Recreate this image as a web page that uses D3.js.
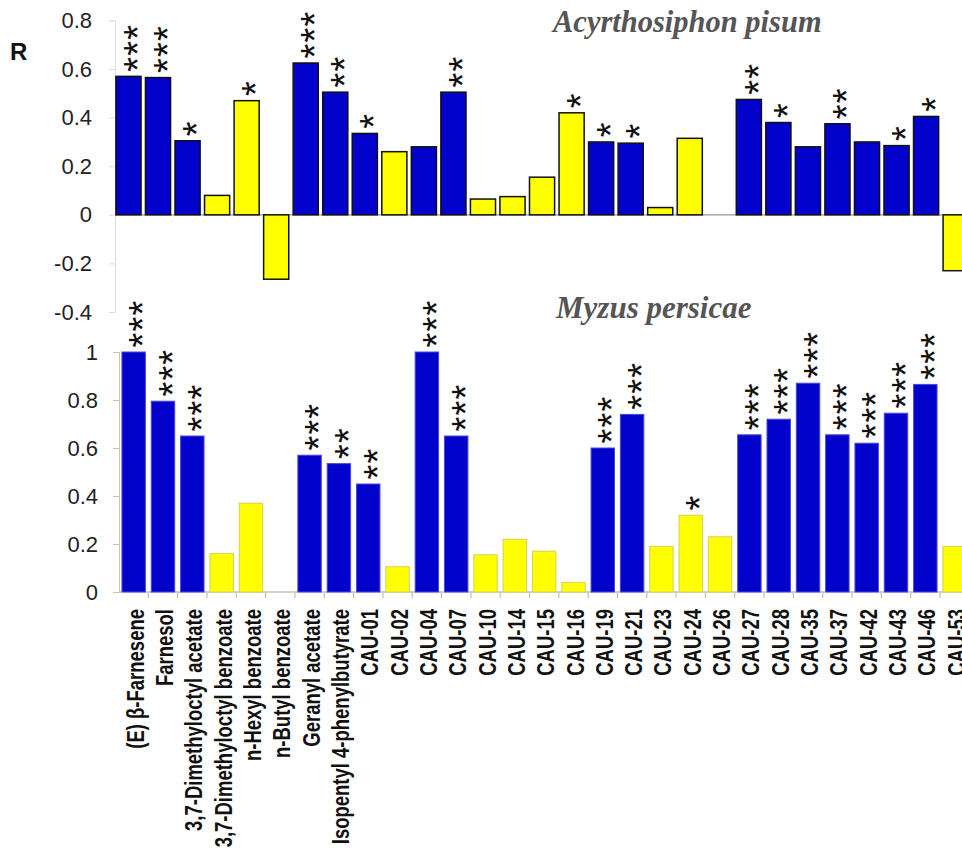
<!DOCTYPE html>
<html>
<head>
<meta charset="utf-8">
<script src="https://cdn.jsdelivr.net/npm/d3@7"></script>
<style>
  body { margin: 0; background: #fff; }
  svg { display: block; }
</style>
</head>
<body>
<div id="chart"></div>
<script>
// Chart values
const categories = [
  "(E) β-Farnesene", "Farnesol", "3,7-Dimethyloctyl acetate", "3,7-Dimethyloctyl benzoate",
  "n-Hexyl benzoate", "n-Butyl benzoate", "Geranyl acetate", "Isopentyl 4-phenylbutyrate",
  "CAU-01", "CAU-02", "CAU-04", "CAU-07", "CAU-10", "CAU-14", "CAU-15", "CAU-16",
  "CAU-19", "CAU-21", "CAU-23", "CAU-24", "CAU-26", "CAU-27", "CAU-28", "CAU-35",
  "CAU-37", "CAU-42", "CAU-43", "CAU-46", "CAU-53"
];
const groups = [
  "blue", "blue", "blue", "yellow", "yellow", "yellow", "blue", "blue",
  "blue", "yellow", "blue", "blue", "yellow", "yellow", "yellow", "yellow",
  "blue", "blue", "yellow", "yellow", "yellow", "blue", "blue", "blue",
  "blue", "blue", "blue", "blue", "yellow"
];
const pisumR = [
  0.57, 0.565, 0.305, 0.08, 0.47, -0.265, 0.625, 0.505,
  0.335, 0.26, 0.28, 0.505, 0.065, 0.075, 0.155, 0.42,
  0.30, 0.295, 0.03, 0.315, null, 0.475, 0.38, 0.28,
  0.375, 0.30, 0.285, 0.405, -0.23
];
const pisumStars = [3, 3, 1, 0, 1, 0, 3, 2, 1, 0, 0, 2, 0, 0, 0, 1, 1, 1, 0, 0, 0, 2, 1, 0, 2, 0, 1, 1, 0];
const persicaeR = [
  1.0, 0.795, 0.65, 0.16, 0.37, 0, 0.57, 0.535,
  0.45, 0.105, 1.0, 0.65, 0.155, 0.22, 0.17, 0.04,
  0.60, 0.74, 0.19, 0.32, 0.23, 0.655, 0.72, 0.87,
  0.655, 0.62, 0.745, 0.865, 0.19
];
const persicaeStars = [3, 3, 3, 0, 0, 0, 3, 2, 2, 0, 3, 3, 0, 0, 0, 0, 3, 3, 0, 1, 0, 3, 3, 3, 3, 3, 3, 3, 0];
const topTicks = [0.8, 0.6, 0.4, 0.2, 0, -0.2, -0.4];
const bottomTicks = [1, 0.8, 0.6, 0.4, 0.2, 0];

const WIDTH = 962;
const HEIGHT = 856;
const COLORS = { blue: "#0202cc", yellow: "#ffff00" };
const BOTTOM_STROKE = { blue: "#4a4ad6", yellow: "#d6cf5a" };
const SANS = "Arial, 'Liberation Sans', Helvetica, sans-serif";
const SERIF = "'Times New Roman', 'Liberation Serif', serif";
const STAR_SIZE = 38;

const svg = d3.select("#chart").append("svg")
  .attr("width", WIDTH)
  .attr("height", HEIGHT);

// scales
const yTop = d3.scaleLinear().domain([-0.4, 0.8]).range([312, 20.5]);
const yBot = d3.scaleLinear().domain([0, 1]).range([592, 352]);
const xTop = d3.scaleBand().domain(categories).range([113.7, 970.4])
  .paddingInner(0.15).paddingOuter(0.075);
const xBot = d3.scaleBand().domain(categories).range([119, 969.3])
  .paddingInner(0.2).paddingOuter(0.1);

const topData = categories.map((c, i) => ({ c, v: pisumR[i], s: pisumStars[i], g: groups[i] }));
const botData = categories.map((c, i) => ({ c, v: persicaeR[i], s: persicaeStars[i], g: groups[i] }));

// ---- top panel (Acyrthosiphon pisum)
const yAxisTop = svg.append("g")
  .attr("transform", "translate(115,0)")
  .call(d3.axisLeft(yTop).tickValues(topTicks).tickSize(6).tickPadding(17).tickFormat(d => String(d)));
yAxisTop.selectAll("path, line").attr("stroke", "#dedede");
yAxisTop.selectAll("text")
  .attr("font-family", SANS).attr("font-size", 22).attr("fill", "#222");

svg.append("line")
  .attr("x1", 115).attr("x2", WIDTH)
  .attr("y1", yTop(0)).attr("y2", yTop(0))
  .attr("stroke", "#9a9a9a").attr("stroke-width", 1.3);

svg.append("g").selectAll("rect")
  .data(topData.filter(d => d.v !== null && d.v !== 0))
  .join("rect")
  .attr("x", d => xTop(d.c))
  .attr("width", xTop.bandwidth())
  .attr("y", d => yTop(Math.max(0, d.v)))
  .attr("height", d => Math.abs(yTop(d.v) - yTop(0)))
  .attr("fill", d => COLORS[d.g])
  .attr("stroke", "#111")
  .attr("stroke-width", 1.5);

// ---- bottom panel (Myzus persicae)
const yAxisBot = svg.append("g")
  .attr("transform", "translate(119,0)")
  .call(d3.axisLeft(yBot).tickValues(bottomTicks).tickSize(6).tickPadding(15).tickFormat(d => String(d)));
yAxisBot.selectAll("path, line").attr("stroke", "#c9c3b0");
yAxisBot.selectAll("text")
  .attr("font-family", SANS).attr("font-size", 22).attr("fill", "#222");

// x axis line with ticks at the category boundaries
svg.append("line")
  .attr("x1", 119).attr("x2", WIDTH)
  .attr("y1", yBot(0)).attr("y2", yBot(0))
  .attr("stroke", "#c9c3b0").attr("stroke-width", 1.3);
const gap = xBot.step() - xBot.bandwidth();
svg.append("g").selectAll("line")
  .data(categories)
  .join("line")
  .attr("x1", d => xBot(d) + xBot.bandwidth() + gap / 2)
  .attr("x2", d => xBot(d) + xBot.bandwidth() + gap / 2)
  .attr("y1", yBot(0)).attr("y2", yBot(0) + 6)
  .attr("stroke", "#c9c3b0").attr("stroke-width", 1.3);

svg.append("g").selectAll("rect")
  .data(botData.filter(d => d.v > 0))
  .join("rect")
  .attr("x", d => xBot(d.c))
  .attr("width", xBot.bandwidth())
  .attr("y", d => yBot(d.v))
  .attr("height", d => yBot(0) - yBot(d.v))
  .attr("fill", d => COLORS[d.g])
  .attr("stroke", d => BOTTOM_STROKE[d.g])
  .attr("stroke-width", 1);

// category labels
svg.append("g").selectAll("text")
  .data(categories)
  .join("text")
  .attr("transform", d => `translate(${xBot(d) + xBot.bandwidth() / 2 + 1.5},609) rotate(-90) scale(1,1.28)`)
  .attr("dy", "0.36em")
  .attr("text-anchor", "end")
  .attr("font-family", SANS)
  .attr("font-weight", "bold")
  .attr("font-size", 18.5)
  .attr("fill", "#111")
  .text(d => d);

// significance stars, stacked as one vertical string per bar
function drawStars(data, x, y) {
  svg.append("g").selectAll("text")
    .data(data.filter(d => d.s > 0))
    .join("text")
    .attr("transform", d => {
      const cx = x(d.c) + x.bandwidth() / 2 + 1;
      const y0 = y(Math.max(0, d.v)) - 12 + 0.195 * STAR_SIZE;
      return `translate(${cx},${y0}) rotate(-90)`;
    })
    .attr("dy", "0.57em")
    .attr("letter-spacing", 1.2)
    .attr("font-family", SANS)
    .attr("font-size", STAR_SIZE)
    .attr("fill", "#111")
    .text(d => "*".repeat(d.s));
}
drawStars(topData, xTop, yTop);
drawStars(botData, xBot, yBot);

// titles
svg.append("text")
  .attr("x", 553).attr("y", 32)
  .attr("font-family", SERIF).attr("font-weight", "bold").attr("font-style", "italic")
  .attr("font-size", 30.5).attr("fill", "#555")
  .text("Acyrthosiphon pisum");
svg.append("text")
  .attr("x", 556).attr("y", 318)
  .attr("font-family", SERIF).attr("font-weight", "bold").attr("font-style", "italic")
  .attr("font-size", 31).attr("fill", "#555")
  .text("Myzus persicae");
svg.append("text")
  .attr("x", 10).attr("y", 60)
  .attr("font-family", SANS).attr("font-weight", "bold")
  .attr("font-size", 24).attr("fill", "#111")
  .text("R");
</script>
</body>
</html>
